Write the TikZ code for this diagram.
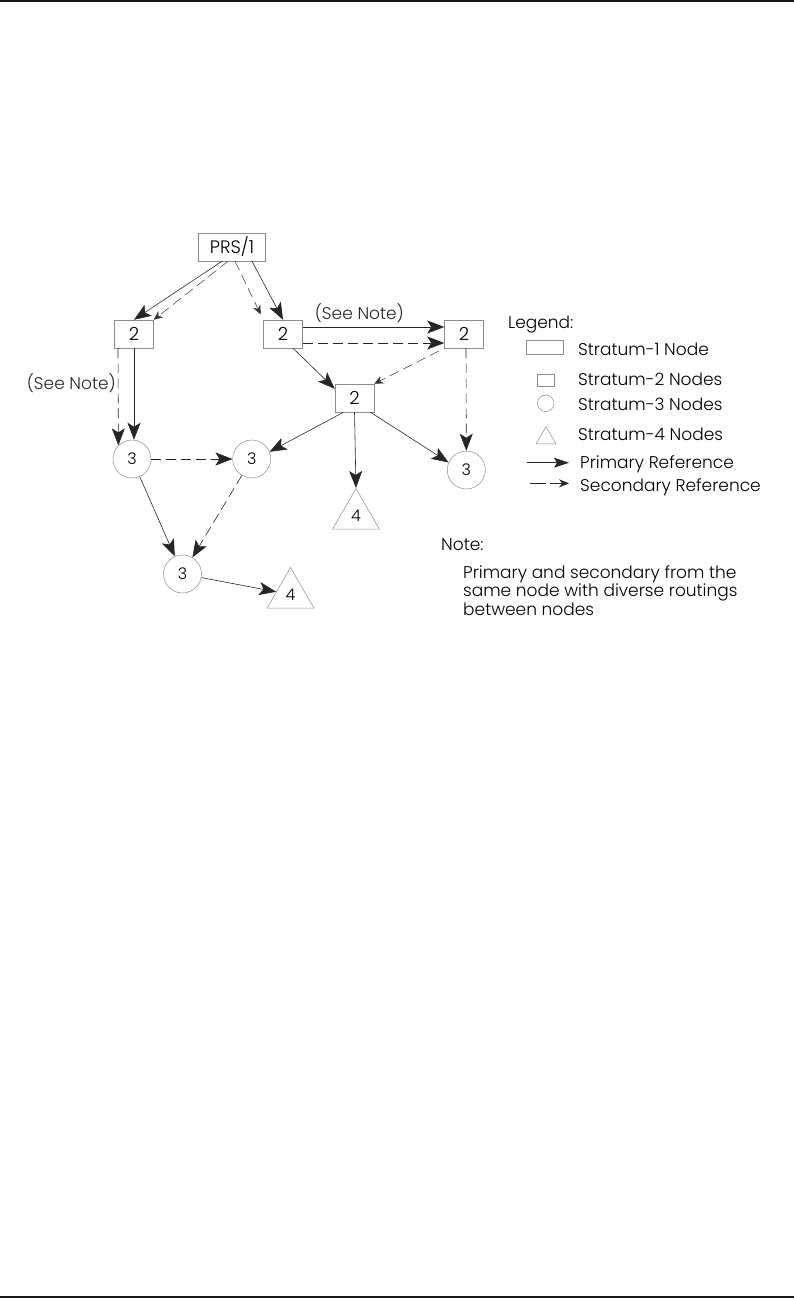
\documentclass[tikz,border=0pt]{standalone}
\usepackage{fontspec}
\setmainfont{Poppins Light}
\usetikzlibrary{arrows.meta,shapes.geometric,positioning}

\begin{document}
\begin{tikzpicture}[x=1pt, y=-1pt,
    s1/.style={draw=black!45, line width=0.5pt, minimum width=67pt, minimum height=28pt, inner sep=0pt, font=\fontsize{18}{20}\selectfont},
    s2/.style={s1, minimum width=39pt},
    s3/.style={draw=black!45, line width=0.5pt, circle, minimum size=38pt, inner sep=0pt, font=\fontsize{16}{20}\selectfont},
    s4/.style={draw=black!45, line width=0.5pt, regular polygon, regular polygon sides=3, minimum size=54pt, inner sep=0pt, font=\fontsize{16}{20}\selectfont},
    prim/.style={-{Stealth[length=17pt,width=13pt,inset=4pt]}, line width=0.6pt, black!85},
    sec/.style={prim, dash pattern=on 10pt off 5pt},
    secsm/.style={-{Stealth[length=9pt,width=8pt]}, line width=0.5pt, black!80, dash pattern=on 10pt off 5pt},
    lbl/.style={inner sep=0pt, font=\fontsize{17}{18.5}\selectfont}
]
\useasboundingbox (0,0) rectangle (794,1298);
\draw[line width=2.5pt, black!90] (0,1.25) -- (794,1.25);
\draw[line width=2.5pt, black!90] (0,1296.75) -- (794,1296.75);

% stratum nodes
\node[s1] (prs) at (232,247) {PRS/1};
\node[s2] (sA) at (134,334) {2};
\node[s2] (sB) at (283,334) {2};
\node[s2] (sC) at (464,334) {2};
\node[s2] (sD) at (354.5,398) {2};
\node[s3] (cA) at (132,459) {3};
\node[s3] (cB) at (251.7,459) {3};
\node[s3] (cC) at (182.5,574) {3};
\node[s3] (cD) at (466.3,470) {3};
\node[s4] (tA) at (356,515.5) {4};
\node[s4] (tB) at (290.5,594.5) {4};

% references
\draw[prim] ([xshift=-10pt]prs.south) -- (sA.north);
\draw[secsm] ([xshift=-4pt]prs.south) -- (sA.north east);
\draw[secsm, shorten >=6pt] ([xshift=3pt]prs.south) -- (sB.north west);
\draw[prim] ([xshift=20pt]prs.south) -- (sB.north);
\draw[prim] ([yshift=7pt]sB.east) -- node[lbl, above=4pt, pos=0.4] {(See Note)} ([yshift=7pt]sC.west);
\draw[sec] ([yshift=-9pt]sB.east) -- ([yshift=-9pt]sC.west);
\draw[prim] ([xshift=10pt]sB.south) -- (sD.155);
\draw[secsm, shorten <=6pt] (sC.south west) -- (sD.north east);
\draw[sec] ([xshift=2pt]sC.south) -- (cD.north);
\draw[prim] (sD.south) -- (tA.corner 1);
\draw[prim] ([xshift=-11pt]sD.south) -- (cB.22);
\draw[prim] ([xshift=16pt]sD.south) -- (cD.157);
\draw[prim] (sA.south) -- (sA.south |- cA.north);
\draw[sec] ([xshift=-16pt]sA.south) -- node[lbl, left=2pt, pos=0.36] {(See Note)} (cA.135);
\draw[sec] (cA) -- (cB);
\draw[prim] (cA) -- (cC);
\draw[sec] (cB) -- (cC);
\draw[prim] (cC) -- (tB);

% legend
\node[lbl, anchor=base west] (legend) at (508,328) {Legend:};
\node[s1, minimum width=37pt, minimum height=14pt] (k1) at (545,347.5) {};
\node[s2, minimum width=17pt, minimum height=12pt] (k2) at (545.7,380) {};
\node[s3, minimum size=16.5pt] (k3) at (545.7,403.3) {};
\node[s4, minimum size=23pt] (k4) at (546,438.2) {};
\coordinate (p0) at (526.7,462.7);
\coordinate (p1) at (569,462.7);
\coordinate (q0) at (530,483.3);
\coordinate (q1) at (569,483.3);
\draw[prim, -{Stealth[length=15pt,width=10pt,inset=3pt]}] (p0) -- (p1);
\draw[sec, dash pattern=on 16pt off 4pt, -{Stealth[length=10pt,width=8pt]}] (q0) -- (q1);
\node[lbl, anchor=base west] (n1) at (578,355) {Stratum-1 Node};
\node[lbl, anchor=base west] (n2) at (578,385) {Stratum-2 Nodes};
\node[lbl, anchor=base west] (n3) at (578,410) {Stratum-3 Nodes};
\node[lbl, anchor=base west] (n4) at (578,440) {Stratum-4 Nodes};
\node[lbl, anchor=base west] (n5) at (580,468) {Primary Reference};
\node[lbl, anchor=base west] (n6) at (580,491) {Secondary Reference};

% note
\node[lbl, anchor=base west] (note) at (441,550) {Note:};
\node[lbl, anchor=base west, align=left] (notetext) at (463,615) {Primary and secondary from the\\same node with diverse routings\\between nodes};
\end{tikzpicture}
\end{document}
